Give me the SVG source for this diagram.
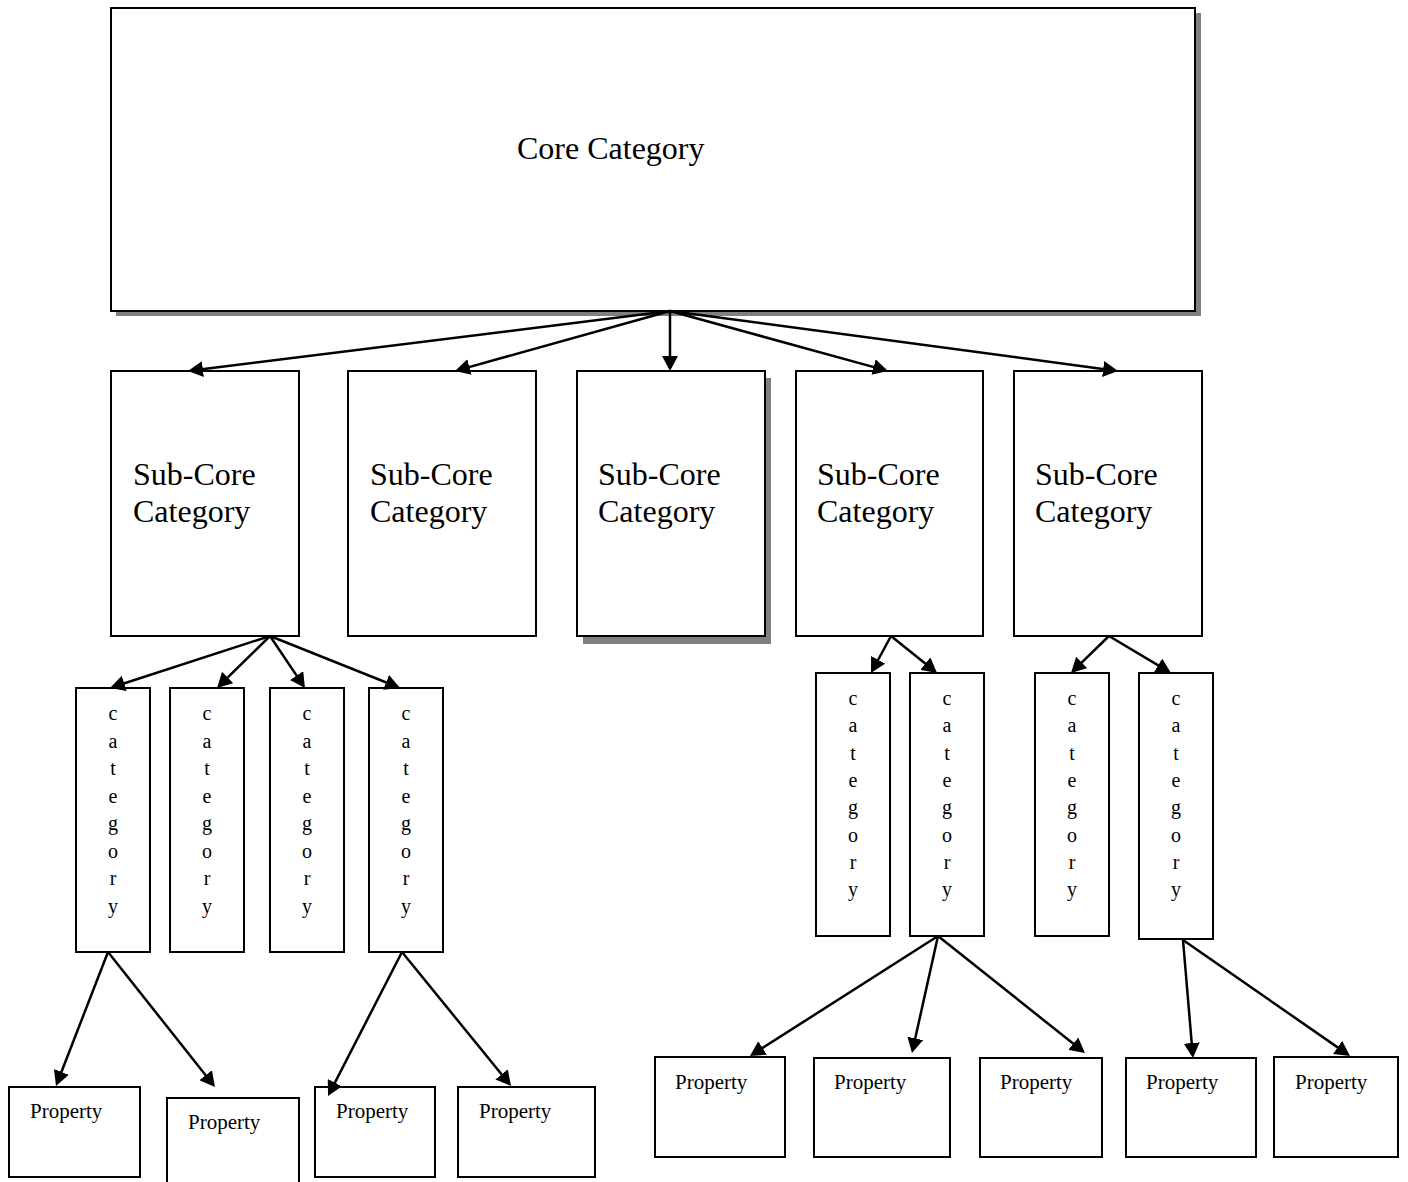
<svg xmlns="http://www.w3.org/2000/svg" width="1408" height="1182" viewBox="0 0 1408 1182">
  <style>
    .box { fill: #ffffff; stroke: #000000; stroke-width: 2; }
    .shadow { fill: #808080; }
    .t { font-family: "Liberation Serif", "Times New Roman", serif; fill: #000000; }
    .big { font-size: 32px; }
    .letters { font-size: 20px; text-anchor: middle; }
    .prop { font-size: 21px; }
    .conn line { stroke: #000000; stroke-width: 2.5; marker-end: url(#head); }
  </style>
  <defs>
    <marker id="head" markerUnits="userSpaceOnUse" markerWidth="16" markerHeight="16" refX="7" refY="8" orient="auto">
      <path d="M0,0 L15,8 L0,16 z" fill="#000000"/>
    </marker>
  </defs>
  <rect width="1408" height="1182" fill="#ffffff"/>

  <!-- top level -->
  <g id="core">
    <rect class="shadow" x="116" y="13" width="1085" height="303"/>
    <rect class="box" x="111" y="8" width="1084" height="303"/>
    <text class="t big" x="517" y="159">Core Category</text>
  </g>

  <!-- second level -->
  <g id="sub1">
    <rect class="box" x="111" y="371" width="188" height="265"/>
    <text class="t big" x="133" y="485">Sub-Core</text>
    <text class="t big" x="133" y="522">Category</text>
  </g>
  <g id="sub2">
    <rect class="box" x="348" y="371" width="188" height="265"/>
    <text class="t big" x="370" y="485">Sub-Core</text>
    <text class="t big" x="370" y="522">Category</text>
  </g>
  <g id="sub3">
    <rect class="shadow" x="583" y="378" width="188" height="266"/>
    <rect class="box" x="577" y="371" width="188" height="265"/>
    <text class="t big" x="598" y="485">Sub-Core</text>
    <text class="t big" x="598" y="522">Category</text>
  </g>
  <g id="sub4">
    <rect class="box" x="796" y="371" width="187" height="265"/>
    <text class="t big" x="817" y="485">Sub-Core</text>
    <text class="t big" x="817" y="522">Category</text>
  </g>
  <g id="sub5">
    <rect class="box" x="1014" y="371" width="188" height="265"/>
    <text class="t big" x="1035" y="485">Sub-Core</text>
    <text class="t big" x="1035" y="522">Category</text>
  </g>

  <!-- third level, left branch -->
  <g id="cat1">
    <rect class="box" x="76" y="688" width="74" height="264"/>
    <text class="t letters" y="720"><tspan x="113">c</tspan><tspan x="113" dy="27.5">a</tspan><tspan x="113" dy="27.5">t</tspan><tspan x="113" dy="27.5">e</tspan><tspan x="113" dy="27.5">g</tspan><tspan x="113" dy="27.5">o</tspan><tspan x="113" dy="27.5">r</tspan><tspan x="113" dy="27.5">y</tspan></text>
  </g>
  <g id="cat2">
    <rect class="box" x="170" y="688" width="74" height="264"/>
    <text class="t letters" y="720"><tspan x="207">c</tspan><tspan x="207" dy="27.5">a</tspan><tspan x="207" dy="27.5">t</tspan><tspan x="207" dy="27.5">e</tspan><tspan x="207" dy="27.5">g</tspan><tspan x="207" dy="27.5">o</tspan><tspan x="207" dy="27.5">r</tspan><tspan x="207" dy="27.5">y</tspan></text>
  </g>
  <g id="cat3">
    <rect class="box" x="270" y="688" width="74" height="264"/>
    <text class="t letters" y="720"><tspan x="307">c</tspan><tspan x="307" dy="27.5">a</tspan><tspan x="307" dy="27.5">t</tspan><tspan x="307" dy="27.5">e</tspan><tspan x="307" dy="27.5">g</tspan><tspan x="307" dy="27.5">o</tspan><tspan x="307" dy="27.5">r</tspan><tspan x="307" dy="27.5">y</tspan></text>
  </g>
  <g id="cat4">
    <rect class="box" x="369" y="688" width="74" height="264"/>
    <text class="t letters" y="720"><tspan x="406">c</tspan><tspan x="406" dy="27.5">a</tspan><tspan x="406" dy="27.5">t</tspan><tspan x="406" dy="27.5">e</tspan><tspan x="406" dy="27.5">g</tspan><tspan x="406" dy="27.5">o</tspan><tspan x="406" dy="27.5">r</tspan><tspan x="406" dy="27.5">y</tspan></text>
  </g>

  <!-- third level, right branches -->
  <g id="cat5">
    <rect class="box" x="816" y="673" width="74" height="263"/>
    <text class="t letters" y="705"><tspan x="853">c</tspan><tspan x="853" dy="27.3">a</tspan><tspan x="853" dy="27.3">t</tspan><tspan x="853" dy="27.3">e</tspan><tspan x="853" dy="27.3">g</tspan><tspan x="853" dy="27.3">o</tspan><tspan x="853" dy="27.3">r</tspan><tspan x="853" dy="27.3">y</tspan></text>
  </g>
  <g id="cat6">
    <rect class="box" x="910" y="673" width="74" height="263"/>
    <text class="t letters" y="705"><tspan x="947">c</tspan><tspan x="947" dy="27.3">a</tspan><tspan x="947" dy="27.3">t</tspan><tspan x="947" dy="27.3">e</tspan><tspan x="947" dy="27.3">g</tspan><tspan x="947" dy="27.3">o</tspan><tspan x="947" dy="27.3">r</tspan><tspan x="947" dy="27.3">y</tspan></text>
  </g>
  <g id="cat7">
    <rect class="box" x="1035" y="673" width="74" height="263"/>
    <text class="t letters" y="705"><tspan x="1072">c</tspan><tspan x="1072" dy="27.3">a</tspan><tspan x="1072" dy="27.3">t</tspan><tspan x="1072" dy="27.3">e</tspan><tspan x="1072" dy="27.3">g</tspan><tspan x="1072" dy="27.3">o</tspan><tspan x="1072" dy="27.3">r</tspan><tspan x="1072" dy="27.3">y</tspan></text>
  </g>
  <g id="cat8">
    <rect class="box" x="1139" y="673" width="74" height="266"/>
    <text class="t letters" y="705"><tspan x="1176">c</tspan><tspan x="1176" dy="27.3">a</tspan><tspan x="1176" dy="27.3">t</tspan><tspan x="1176" dy="27.3">e</tspan><tspan x="1176" dy="27.3">g</tspan><tspan x="1176" dy="27.3">o</tspan><tspan x="1176" dy="27.3">r</tspan><tspan x="1176" dy="27.3">y</tspan></text>
  </g>

  <!-- property leaves -->
  <g id="prop1">
    <rect class="box" x="9" y="1087" width="131" height="90"/>
    <text class="t prop" x="30" y="1118">Property</text>
  </g>
  <g id="prop2">
    <rect class="box" x="167" y="1098" width="132" height="95"/>
    <text class="t prop" x="188" y="1129">Property</text>
  </g>
  <g id="prop3">
    <rect class="box" x="315" y="1087" width="120" height="90"/>
    <text class="t prop" x="336" y="1118">Property</text>
  </g>
  <g id="prop4">
    <rect class="box" x="458" y="1087" width="137" height="90"/>
    <text class="t prop" x="479" y="1118">Property</text>
  </g>
  <g id="prop5">
    <rect class="box" x="655" y="1057" width="130" height="100"/>
    <text class="t prop" x="675" y="1089">Property</text>
  </g>
  <g id="prop6">
    <rect class="box" x="814" y="1058" width="136" height="99"/>
    <text class="t prop" x="834" y="1089">Property</text>
  </g>
  <g id="prop7">
    <rect class="box" x="980" y="1058" width="122" height="99"/>
    <text class="t prop" x="1000" y="1089">Property</text>
  </g>
  <g id="prop8">
    <rect class="box" x="1126" y="1058" width="130" height="99"/>
    <text class="t prop" x="1146" y="1089">Property</text>
  </g>
  <g id="prop9">
    <rect class="box" x="1274" y="1057" width="124" height="100"/>
    <text class="t prop" x="1295" y="1089">Property</text>
  </g>

  <!-- connectors -->
  <g id="connectors" class="conn">
    <line x1="670" y1="311" x2="195.9" y2="370.0"/>
    <line x1="670" y1="311" x2="462.7" y2="368.85"/>
    <line x1="670" y1="311" x2="670" y2="363"/>
    <line x1="670" y1="311" x2="880.3" y2="368.9"/>
    <line x1="670" y1="311" x2="1110.1" y2="369.9"/>

    <line x1="270" y1="636" x2="117.6" y2="685.5"/>
    <line x1="270" y1="636" x2="222.7" y2="682.4"/>
    <line x1="270" y1="636" x2="300.5" y2="681.4"/>
    <line x1="270" y1="636" x2="392.6" y2="685.0"/>

    <line x1="891" y1="636" x2="874.8" y2="666.0"/>
    <line x1="891" y1="636" x2="930.8" y2="668.0"/>
    <line x1="1109" y1="636" x2="1076.7" y2="667.4"/>
    <line x1="1109" y1="636" x2="1164.1" y2="668.9"/>

    <line x1="108" y1="952" x2="58.9" y2="1078.5"/>
    <line x1="108" y1="952" x2="210.0" y2="1080.7"/>
    <line x1="402" y1="952" x2="331.7" y2="1088.9"/>
    <line x1="402" y1="952" x2="506.0" y2="1079.8"/>

    <line x1="938" y1="936" x2="756.7" y2="1051.7"/>
    <line x1="938" y1="936" x2="913.7" y2="1045.2"/>
    <line x1="938" y1="936" x2="1078.7" y2="1048.0"/>
    <line x1="1183" y1="940" x2="1192.3" y2="1050.0"/>
    <line x1="1183" y1="940" x2="1343.4" y2="1051.4"/>
  </g>
</svg>
